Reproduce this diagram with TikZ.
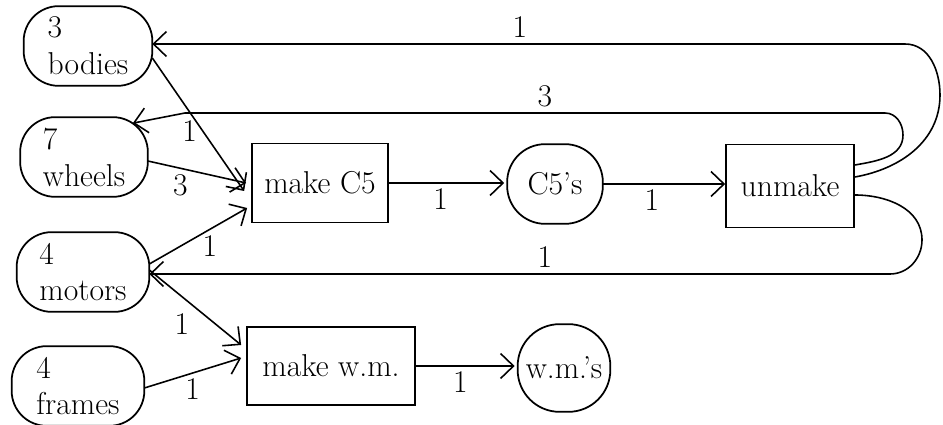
\documentclass[tikz,border=0pt]{standalone}
\usepackage{tikz}
\usetikzlibrary{arrows.meta}
\tikzset{
	place/.style={rectangle, minimum height=1.58cm, align=left, inner sep=2pt},
	rim/.style={line width=1pt, rounded corners=#1},
	trans/.style={draw, line width=1pt, rectangle,
		minimum height=1.58cm, align=center, inner sep=3pt},
	arr/.style={-{Straight Barb[length=2.6mm, width=5mm]}, line width=0.9pt},
	lbl/.style={inner sep=3pt},
}

\begin{document}
\begin{tikzpicture}[x=0.02cm, y=-0.02cm, font=\fontsize{18}{21}\selectfont]
	\useasboundingbox (0,0) rectangle (943,425);
	% places
	\node[place, minimum width=2.56cm] (bod) at (88,46) {3\\bodies};
	\node[place, minimum width=2.54cm] (whe) at (84,157) {7\\wheels};
	\node[place, minimum width=2.64cm] (mot) at (83,272) {4\\motors};
	\node[place, minimum width=2.64cm] (fra) at (78,386) {4\\frames};
	\node[place, minimum width=1.9cm, align=center] (cfv) at (555,184) {C5's};
	\node[place, minimum width=1.84cm, minimum height=1.74cm, align=center] (wms) at (564,368) {w.m.'s};
	\foreach \n/\r in {bod/0.7cm, whe/0.7cm, mot/0.7cm, fra/0.7cm, cfv/0.76cm, wms/0.84cm}
		\draw[rim=\r] (\n.north west) -- (\n.north east) -- (\n.south east)
			-- (\n.south west) -- cycle;
	% transitions
	\node[trans, minimum width=2.72cm] (mkc) at (320,183) {make C5};
	\node[trans, minimum width=2.56cm, minimum height=1.66cm] (unm) at (790,186) {unmake};
	\node[trans, minimum width=3.36cm, minimum height=1.56cm] (mkw) at (331,366) {make w.m.};
	% inputs
	\draw[arr] ([yshift=-0.24cm]bod.east) -- ([xshift=-0.14cm,yshift=-0.16cm]mkc.west)
		node[lbl, left, pos=0.55] (l1) {1};
	\draw[arr] ([yshift=-0.08cm]whe.east) -- ([xshift=-0.1cm]mkc.west)
		node[lbl, below, pos=0.33] (l2) {3};
	\draw[arr] ([yshift=0.16cm]mot.east) -- ([xshift=-0.08cm,yshift=-0.5cm]mkc.west)
		node[lbl, below, pos=0.62] (l3) {1};
	\draw[arr] ([yshift=0.04cm]mot.east) -- ([xshift=-0.1cm,yshift=0.42cm]mkw.west)
		node[lbl, below left, pos=0.5] (l4) {1};
	\draw[arr] ([yshift=-0.04cm]fra.east) -- ([xshift=-0.1cm,yshift=0.16cm]mkw.west)
		node[lbl, below, pos=0.5] (l5) {1};
	% outputs
	\draw[arr] (mkc.east) -- ([xshift=-0.06cm]mkc.east -| cfv.west)
		node[lbl, below, pos=0.45] (l6) {1};
	\draw[arr] (cfv.east) -- (cfv.east -| unm.west)
		node[lbl, below, pos=0.4] (l7) {1};
	\draw[arr] (mkw.east) -- ([xshift=-0.06cm]mkw.east -| wms.west)
		node[lbl, below, pos=0.45] (l8) {1};
	% returns from unmake
	\draw[arr] ([yshift=0.18cm]unm.east) to[out=10, in=-90] (940,95)
		to[out=90, in=0] (905,44) -- (520,44) node[lbl, above] (l9) {1}
		-- ([yshift=0.04cm]bod.east);
	\draw[arr] ([yshift=0.42cm]unm.east) to[out=10, in=-90] (903,135)
		to[out=90, in=0] (885,113) -- (545,113) node[lbl, above] (l10) {3}
		-- (185,113) -- ([xshift=-0.3cm,yshift=-0.12cm]whe.north east);
	\draw[arr] ([yshift=-0.18cm]unm.east) to[out=0, in=90] (922,240)
		to[out=-90, in=0] (890,274) -- (545,274) node[lbl, above] (l11) {1}
		-- (mot.east |- 0,274);
\end{tikzpicture}
\end{document}
